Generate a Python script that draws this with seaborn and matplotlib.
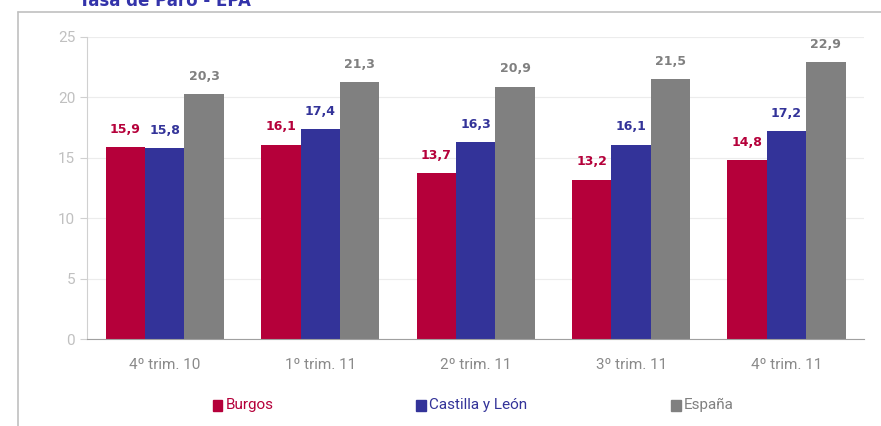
import matplotlib
matplotlib.use('Agg')
import matplotlib.pyplot as plt
from matplotlib.lines import Line2D
import seaborn as sns
import pandas

periods = ['4º trim. 10', '1º trim. 11', '2º trim. 11', '3º trim. 11', '4º trim. 11']
burgos = [15.9, 16.1, 13.7, 13.2, 14.8]
castilla = [15.8, 17.4, 16.3, 16.1, 17.2]
espana = [20.3, 21.3, 20.9, 21.5, 22.9]
series = ['Burgos', 'Castilla y León', 'España']
colors = {'Burgos': '#b5003a', 'Castilla y León': '#333399', 'España': '#808080'}

rows = []
for name, vals in zip(series, [burgos, castilla, espana]):
    for p, v in zip(periods, vals):
        rows.append((p, name, v))
df = pandas.DataFrame(rows, columns=['period', 'zone', 'rate'])

sns.set_style('white')
plt.rcParams['font.family'] = ['DejaVu Sans']

fig = plt.figure(figsize=(8.81, 4.26), dpi=100)
ax = fig.add_axes([0.0988, 0.2042, 0.8822, 0.709])
sns.barplot(df, x='period', y='rate', hue='zone', palette=colors, order=periods,
            hue_order=series, width=0.76, saturation=1, legend=False, linewidth=0, ax=ax)

ax.set_ylim(0, 25)
ax.set_xlim(-0.5, 4.5)
ax.set_yticks([0, 5, 10, 15, 20, 25])
ax.yaxis.grid(True, color='#ececec', linewidth=0.8)
ax.set_axisbelow(True)
ax.set_xlabel('')
ax.set_ylabel('')
for s in ['top', 'right']:
    ax.spines[s].set_visible(False)
ax.spines['left'].set_color('#d0d0d0')
ax.spines['bottom'].set_color('#a0a0a0')
ax.set_xticks([-0.5, 0.5, 1.5, 2.5, 3.5, 4.5], minor=True)
ax.tick_params(axis='x', which='major', length=0, pad=14, labelsize=11, labelcolor='#8a8a8a')
ax.tick_params(axis='x', which='minor', length=5, color='#a0a0a0', direction='out')
ax.tick_params(axis='y', length=5, color='#d0d0d0', labelsize=11, labelcolor='#c0c0c0', left=True)
for lab in ax.get_xticklabels() + ax.get_yticklabels():
    lab.set_family(['Roboto', 'DejaVu Sans'])

for cont, name in zip(ax.containers, series):
    for bar in cont:
        h = bar.get_height()
        ax.annotate(f'{h:.1f}'.replace('.', ','), (bar.get_x() + bar.get_width() / 2, h),
                    xytext=(0, 8), textcoords='offset points', ha='center', va='bottom',
                    fontsize=9, fontweight='bold', color=colors[name])

# legend
legend_x = [0.255, 0.486, 0.775]
for x, name in zip(legend_x, series):
    fig.patches.append(plt.Rectangle((x - 0.0135, 0.036), 0.011, 0.026, transform=fig.transFigure,
                                     color=colors[name], figure=fig))
    fig.text(x + 0.001, 0.049, name, color=colors[name], fontsize=11, va='center',
             family=['Roboto', 'DejaVu Sans'])

# frame and clipped title
fig.add_artist(Line2D([0.0204, 1.0], [0.972, 0.972], color='#c0c0c0', linewidth=1.2))
fig.add_artist(Line2D([0.0204, 0.0204], [0.0, 0.972], color='#c0c0c0', linewidth=1.2))
fig.text(0.09, 0.998, 'Tasa de Paro - EPA', color='#3333aa', fontsize=12, fontweight='bold',
         va='center', ha='left')

fig.savefig('out.png', dpi=100)
